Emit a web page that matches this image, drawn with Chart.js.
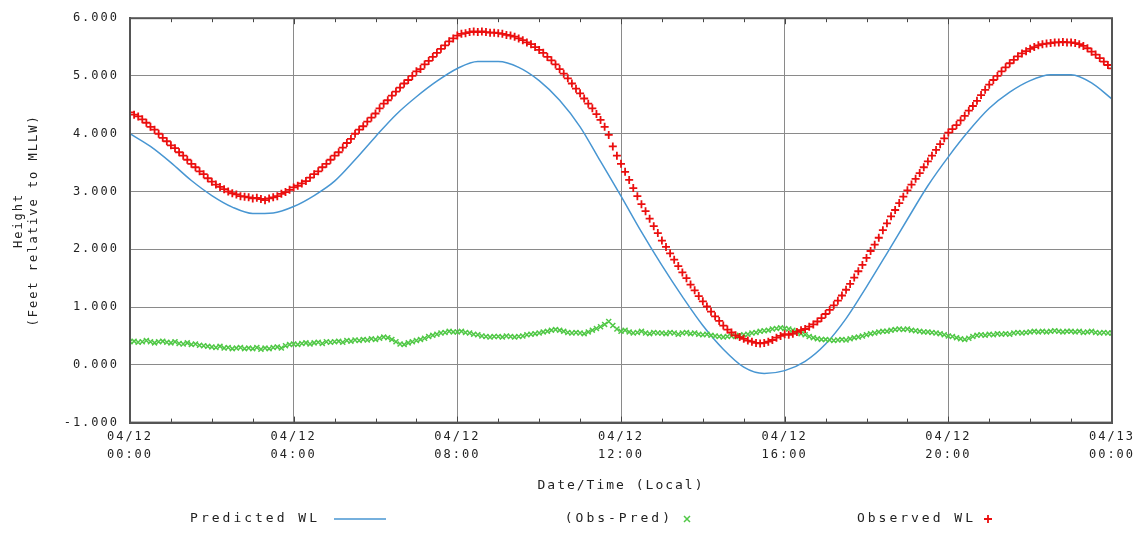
<!DOCTYPE html>
<html>
<head>
<meta charset="utf-8">
<script src="https://cdn.jsdelivr.net/npm/chart.js@4.4.1/dist/chart.umd.min.js"></script>
<style>
  html, body { margin: 0; padding: 0; background: #fff; }
  #wrap { width: 1144px; height: 533px; }
</style>
</head>
<body>
<div id="wrap"><canvas id="tideChart" width="1144" height="533"></canvas></div>
<script>
// x axis: hours after 04/12 00:00 (local)
var tickDays  = ['04/12', '04/12', '04/12', '04/12', '04/12', '04/12', '04/13'];
var tickTimes = ['00:00', '04:00', '08:00', '12:00', '16:00', '20:00', '00:00'];
var yTicks = [-1, 0, 1, 2, 3, 4, 5, 6];

// predicted water level, every 30 min (ft, MLLW)
var predictedWL = [
  4.00, 3.78, 3.50, 3.19, 2.93, 2.73, 2.62, 2.63, 2.74, 2.93,
  3.18, 3.55, 3.95, 4.33, 4.64, 4.91, 5.13, 5.25, 5.25, 5.15,
  4.92, 4.58, 4.12, 3.52, 2.92, 2.30, 1.72, 1.18, 0.68, 0.27,
  -0.04, -0.15, -0.10, 0.06, 0.36, 0.80, 1.35, 1.93, 2.52, 3.10,
  3.60, 4.05, 4.44, 4.72, 4.92, 5.02, 5.02, 4.88, 4.60
];

// observed water level, every 6 min (one row per hour)
var observedWL = [
  4.37, 4.33, 4.30, 4.25, 4.19, 4.12, 4.07, 4.00, 3.93, 3.87,
  3.80, 3.75, 3.68, 3.62, 3.55, 3.48, 3.42, 3.35, 3.30, 3.23,
  3.17, 3.12, 3.08, 3.04, 3.00, 2.97, 2.95, 2.92, 2.91, 2.90,
  2.88, 2.89, 2.87, 2.85, 2.88, 2.90, 2.92, 2.96, 2.99, 3.03,
  3.07, 3.10, 3.14, 3.18, 3.24, 3.30, 3.35, 3.42, 3.48, 3.55,
  3.62, 3.68, 3.76, 3.84, 3.91, 4.00, 4.07, 4.13, 4.21, 4.28,
  4.35, 4.44, 4.52, 4.58, 4.66, 4.73, 4.80, 4.87, 4.93, 5.00,
  5.08, 5.12, 5.20, 5.26, 5.33, 5.40, 5.47, 5.53, 5.60, 5.65,
  5.70, 5.73, 5.74, 5.76, 5.77, 5.76, 5.77, 5.76, 5.75, 5.75,
  5.74, 5.73, 5.71, 5.70, 5.68, 5.65, 5.62, 5.58, 5.55, 5.50,
  5.45, 5.40, 5.33, 5.27, 5.20, 5.12, 5.04, 4.96, 4.87, 4.78,
  4.70, 4.61, 4.52, 4.44, 4.34, 4.24, 4.12, 3.98, 3.78, 3.62,
  3.48, 3.34, 3.20, 3.06, 2.92, 2.78, 2.66, 2.53, 2.40, 2.28,
  2.15, 2.04, 1.93, 1.82, 1.71, 1.60, 1.50, 1.39, 1.29, 1.19,
  1.10, 1.01, 0.92, 0.84, 0.76, 0.68, 0.61, 0.56, 0.51, 0.48,
  0.45, 0.42, 0.40, 0.38, 0.37, 0.38, 0.40, 0.43, 0.47, 0.50,
  0.53, 0.52, 0.54, 0.57, 0.60, 0.62, 0.66, 0.70, 0.75, 0.81,
  0.88, 0.95, 1.03, 1.11, 1.20, 1.30, 1.40, 1.51, 1.62, 1.73,
  1.85, 1.97, 2.08, 2.20, 2.33, 2.45, 2.57, 2.68, 2.80, 2.91,
  3.02, 3.12, 3.22, 3.32, 3.42, 3.52, 3.62, 3.72, 3.82, 3.92,
  4.02, 4.08, 4.15, 4.23, 4.31, 4.40, 4.48, 4.57, 4.67, 4.76,
  4.85, 4.93, 5.00, 5.08, 5.15, 5.22, 5.28, 5.34, 5.39, 5.43,
  5.47, 5.50, 5.53, 5.55, 5.56, 5.57, 5.58, 5.58, 5.59, 5.58,
  5.58, 5.57, 5.55, 5.52, 5.48, 5.42, 5.37, 5.31, 5.25, 5.19,
  5.13
];

// observed minus predicted, every 6 min
var obsMinusPred = [
  0.40, 0.41, 0.39, 0.40, 0.42, 0.40, 0.38, 0.40, 0.41, 0.39,
  0.38, 0.40, 0.37, 0.36, 0.38, 0.35, 0.36, 0.34, 0.33, 0.32,
  0.31, 0.30, 0.32, 0.29, 0.30, 0.28, 0.29, 0.30, 0.28, 0.29,
  0.28, 0.30, 0.27, 0.29, 0.28, 0.30, 0.31, 0.29, 0.33, 0.35,
  0.36, 0.35, 0.37, 0.38, 0.36, 0.38, 0.39, 0.37, 0.40, 0.39,
  0.40, 0.41, 0.39, 0.42, 0.41, 0.43, 0.42, 0.44, 0.43, 0.45,
  0.44, 0.46, 0.48, 0.47, 0.44, 0.40, 0.36, 0.35, 0.38, 0.40,
  0.42, 0.44, 0.46, 0.49, 0.51, 0.53, 0.55, 0.56, 0.58, 0.57,
  0.57, 0.58, 0.56, 0.55, 0.53, 0.52, 0.50, 0.49, 0.48, 0.49,
  0.49, 0.48, 0.50, 0.49, 0.48, 0.49, 0.50, 0.52, 0.53, 0.54,
  0.55, 0.57, 0.58, 0.60, 0.61, 0.60, 0.58, 0.56, 0.55, 0.56,
  0.55, 0.54, 0.57, 0.60, 0.63, 0.66, 0.70, 0.75, 0.68, 0.62,
  0.58, 0.60, 0.57, 0.55, 0.56, 0.58, 0.55, 0.54, 0.56, 0.55,
  0.55, 0.54, 0.56, 0.55, 0.53, 0.55, 0.56, 0.54, 0.55, 0.53,
  0.52, 0.53, 0.51, 0.50, 0.49, 0.48, 0.49, 0.50, 0.49, 0.51,
  0.52, 0.53, 0.55, 0.56, 0.58, 0.59, 0.60, 0.62, 0.63, 0.64,
  0.63, 0.62, 0.60, 0.57, 0.54, 0.52, 0.49, 0.47, 0.45, 0.44,
  0.44, 0.43, 0.42, 0.43, 0.44, 0.43, 0.45, 0.47, 0.48, 0.50,
  0.52, 0.54, 0.55, 0.57, 0.58, 0.58, 0.60, 0.61, 0.62, 0.61,
  0.62, 0.60, 0.59, 0.58, 0.57, 0.57, 0.56, 0.55, 0.54, 0.52,
  0.50, 0.49, 0.47, 0.45, 0.44, 0.46, 0.49, 0.51, 0.52, 0.51,
  0.53, 0.52, 0.54, 0.53, 0.54, 0.53, 0.55, 0.56, 0.55, 0.56,
  0.57, 0.58, 0.57, 0.58, 0.57, 0.58, 0.59, 0.58, 0.57, 0.58,
  0.58, 0.57, 0.58, 0.56, 0.57, 0.58, 0.56, 0.55, 0.56, 0.55,
  0.55
];

function toPoints(values, stepHours) {
  return values.map(function (v, i) { return { x: i * stepHours, y: v }; });
}

var textColor = '#222';
var monoFont = '"DejaVu Sans Mono", "Liberation Mono", monospace';

// canvas resets letterSpacing on resize, so set it every pass
var wideText = {
  id: 'wideText',
  beforeLayout: function (chart) { chart.ctx.letterSpacing = '2px'; },
  beforeDraw: function (chart) { chart.ctx.letterSpacing = '2px'; }
};

// frame round the plot + hourly tick marks top and bottom
var frameTicks = {
  id: 'frameTicks',
  afterDatasetsDraw: function (chart) {
    var ctx = chart.ctx, a = chart.chartArea, xs = chart.scales.x;
    ctx.save();
    ctx.strokeStyle = '#444';
    ctx.lineWidth = 1;
    for (var h = xs.min; h <= xs.max; h++) {
      var px = Math.round(xs.getPixelForValue(h)) + 0.5;
      var len = (h % 4 === 0) ? 6 : 4;
      ctx.beginPath();
      ctx.moveTo(px, a.bottom); ctx.lineTo(px, a.bottom - len);
      ctx.moveTo(px, a.top); ctx.lineTo(px, a.top + len);
      ctx.stroke();
    }
    ctx.lineWidth = 2;
    ctx.strokeStyle = '#555';
    ctx.strokeRect(a.left, a.top, a.right - a.left, a.bottom - a.top);
    ctx.restore();
  }
};

// legend row: label text, then a sample of the mark
var legendRow = {
  id: 'legendRow',
  afterDraw: function (chart) {
    var ctx = chart.ctx;
    var y = 519;
    var items = [
      { ds: 0, textRight: 320, markX: 360 },
      { ds: 1, textRight: 673, markX: 687 },
      { ds: 2, textRight: 976, markX: 988 }
    ];
    ctx.save();
    ctx.letterSpacing = '3px';
    ctx.font = '13px ' + monoFont;
    ctx.fillStyle = textColor;
    ctx.textAlign = 'right';
    ctx.textBaseline = 'middle';
    items.forEach(function (it) {
      var ds = chart.data.datasets[it.ds];
      ctx.fillText(ds.label, it.textRight, y);
      ctx.strokeStyle = ds.borderColor;
      ctx.lineWidth = ds.borderWidth;
      ctx.beginPath();
      if (ds.pointStyle === 'cross') {
        ctx.moveTo(it.markX - 4, y); ctx.lineTo(it.markX + 4, y);
        ctx.moveTo(it.markX, y - 4); ctx.lineTo(it.markX, y + 4);
      } else if (ds.pointStyle === 'crossRot') {
        ctx.moveTo(it.markX - 3, y - 3); ctx.lineTo(it.markX + 3, y + 3);
        ctx.moveTo(it.markX - 3, y + 3); ctx.lineTo(it.markX + 3, y - 3);
      } else {
        ctx.moveTo(it.markX - 26, y); ctx.lineTo(it.markX + 26, y);
      }
      ctx.stroke();
    });
    ctx.restore();
  }
};

var ctx = document.getElementById('tideChart').getContext('2d');
var tideChart = new Chart(ctx, {
  type: 'line',
  data: {
    datasets: [{
      label: 'Predicted WL',
      data: toPoints(predictedWL, 0.5),
      borderColor: 'rgb(72,150,210)',
      borderWidth: 1.5,
      pointRadius: 0,
      fill: false,
      cubicInterpolationMode: 'monotone',
      order: 2
    }, {
      label: '(Obs-Pred)',
      data: toPoints(obsMinusPred, 0.1),
      showLine: false,
      pointStyle: 'crossRot',
      pointRadius: 3.5,
      borderColor: 'rgb(80,200,70)',
      borderWidth: 1.5,
      order: 1
    }, {
      label: 'Observed WL',
      data: toPoints(observedWL, 0.1),
      showLine: false,
      pointStyle: 'cross',
      pointRadius: 4,
      borderColor: 'rgb(235,15,15)',
      borderWidth: 1.8,
      order: 0
    }]
  },
  options: {
    responsive: false,
    animation: false,
    devicePixelRatio: 1,
    layout: { padding: { top: 14, right: 32, bottom: 40, left: 0 } },
    plugins: {
      legend: { display: false },
      tooltip: { enabled: false }
    },
    scales: {
      x: {
        type: 'linear',
        min: 0,
        max: 24,
        ticks: {
          stepSize: 4,
          padding: 6,
          color: textColor,
          font: { family: monoFont, size: 12, lineHeight: 1.45 },
          maxRotation: 0,
          callback: function (v) {
            var i = v / 4;
            return [tickDays[i], tickTimes[i]];
          }
        },
        grid: { color: '#8a8a8a', lineWidth: 1, drawTicks: false },
        border: { color: '#555', width: 2 },
        title: {
          display: true,
          text: 'Date/Time (Local)',
          color: textColor,
          font: { family: monoFont, size: 13 },
          padding: { top: 8, bottom: 0 }
        }
      },
      y: {
        min: yTicks[0],
        max: yTicks[yTicks.length - 1],
        afterBuildTicks: function (scale) {
          scale.ticks = yTicks.map(function (v) { return { value: v }; });
        },
        afterFit: function (scale) { scale.width = 130; },
        ticks: {
          padding: 11,
          color: textColor,
          font: { family: monoFont, size: 12 },
          callback: function (v) { return v.toFixed(3); }
        },
        grid: { color: '#8a8a8a', lineWidth: 1, drawTicks: false },
        border: { color: '#555', width: 2 },
        title: {
          display: true,
          text: ['Height', '(Feet relative to MLLW)'],
          color: textColor,
          font: { family: monoFont, size: 12, lineHeight: 1.2 },
          padding: { top: 12, bottom: 0 }
        }
      }
    }
  },
  plugins: [wideText, frameTicks, legendRow]
});
</script>
</body>
</html>
